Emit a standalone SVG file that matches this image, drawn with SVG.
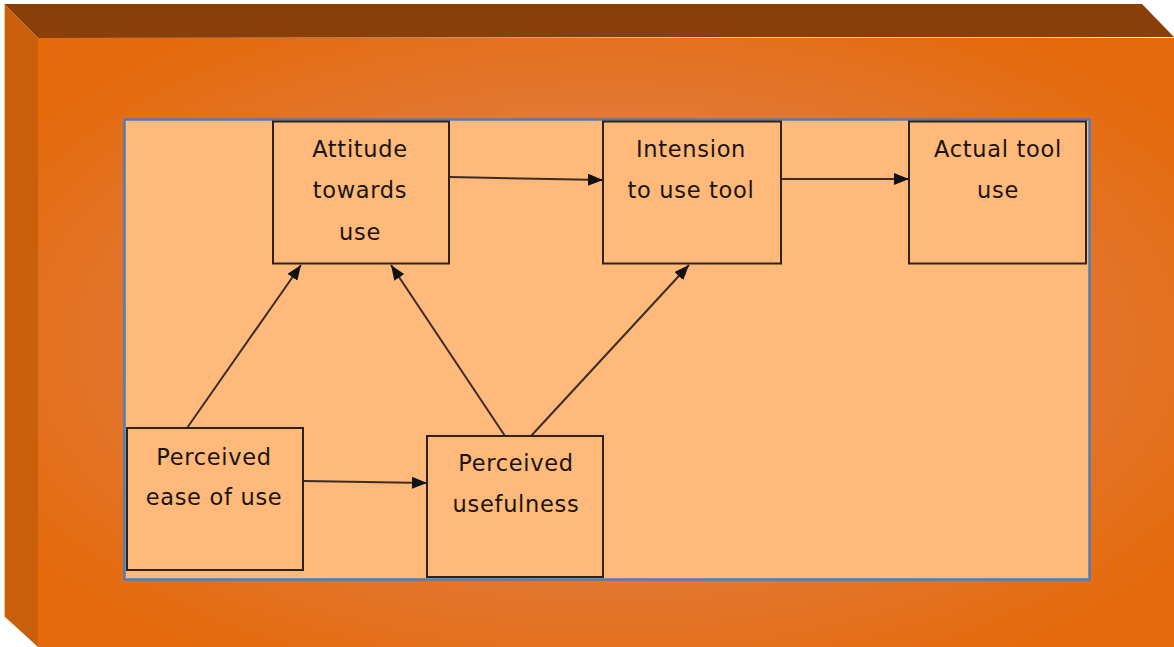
<svg xmlns="http://www.w3.org/2000/svg" width="1174" height="647" viewBox="0 0 1174 647">
  <defs>
    <radialGradient id="faceGrad" cx="0.5" cy="0.5" r="0.62">
      <stop offset="0" stop-color="#E0884E"/>
      <stop offset="0.55" stop-color="#E27A38"/>
      <stop offset="1" stop-color="#E46A0C"/>
    </radialGradient>
    <marker id="arrow" viewBox="0 0 15 12" refX="15" refY="6" markerWidth="15" markerHeight="12" markerUnits="userSpaceOnUse" orient="auto">
      <path d="M0,0 L15,6 L0,12 Z" fill="#111"/>
    </marker>
  </defs>
  <style>
    .node rect { fill: #FFB97A; stroke: #2B2218; stroke-width: 2; }
    .node text { font-family: "DejaVu Sans", Verdana, sans-serif; font-size: 22.5px; letter-spacing: 0.7px; fill: #1A1410; text-anchor: middle; }
    .link { stroke: #3A2E24; stroke-width: 2; fill: none; marker-end: url(#arrow); }
  </style>

  <!-- bevelled frame -->
  <rect x="0" y="0" width="1174" height="647" fill="#FFFFFF"/>
  <polygon points="4,4 1142,4 1174,37 38,38" fill="#8A3F08"/>
  <polygon points="4,4 38,38 38,647 4,616" fill="#C95F0A"/>
  <line x1="4.5" y1="4" x2="4.5" y2="616" stroke="#F0C8A0" stroke-width="1"/>
  <rect x="38" y="38" width="1136" height="609" fill="url(#faceGrad)"/>

  <!-- inner panel -->
  <rect x="124.5" y="119.5" width="965" height="460" fill="#FFB97A" stroke="#4A7EBB" stroke-width="2.5"/>

  <!-- connectors -->
  <g id="connectors">
    <line class="link" x1="450" y1="177" x2="603" y2="180"/>
    <line class="link" x1="782" y1="179" x2="909" y2="179"/>
    <line class="link" x1="187" y1="428" x2="301" y2="265"/>
    <line class="link" x1="505" y1="436" x2="391" y2="265"/>
    <line class="link" x1="531" y1="436" x2="689" y2="265"/>
    <line class="link" x1="304" y1="481" x2="427" y2="483"/>
  </g>

  <!-- nodes -->
  <g id="attitude" class="node">
    <rect x="273" y="121.5" width="176" height="142"/>
    <text x="360" y="157">Attitude</text>
    <text x="360" y="198">towards</text>
    <text x="360" y="240">use</text>
  </g>
  <g id="intension" class="node">
    <rect x="603" y="121.5" width="178" height="142"/>
    <text x="691" y="157">Intension</text>
    <text x="691" y="198">to use tool</text>
  </g>
  <g id="actual-use" class="node">
    <rect x="909" y="121.5" width="177" height="142"/>
    <text x="998" y="157">Actual tool</text>
    <text x="998" y="198">use</text>
  </g>
  <g id="ease-of-use" class="node">
    <rect x="127" y="428" width="176" height="142"/>
    <text x="214" y="465">Perceived</text>
    <text x="214" y="505">ease of use</text>
  </g>
  <g id="usefulness" class="node">
    <rect x="427" y="436" width="176" height="141"/>
    <text x="516" y="471">Perceived</text>
    <text x="516" y="512">usefulness</text>
  </g>
</svg>
